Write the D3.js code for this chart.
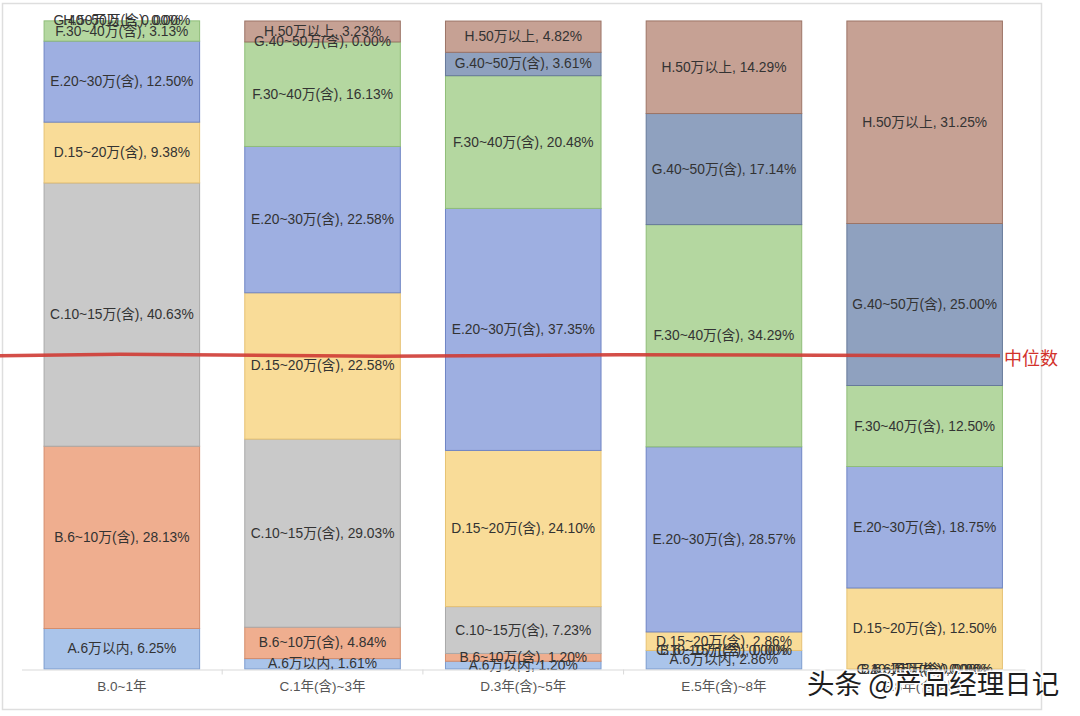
<!DOCTYPE html>
<html>
<head>
<meta charset="utf-8">
<script src="https://cdn.jsdelivr.net/npm/d3@7"></script>
<style>
html,body{margin:0;padding:0;background:#fff;}
svg{display:block;font-family:"Liberation Sans","Noto Sans CJK SC",sans-serif;}
</style>
</head>
<body>
<svg id="chart" width="1080" height="716"></svg>
<script>
// ---- data ----
const categories = ["B.0~1年", "C.1年(含)~3年", "D.3年(含)~5年", "E.5年(含)~8年", "F.8年(含)以上"];
const segmentNames = ["A.6万以内", "B.6~10万(含)", "C.10~15万(含)", "D.15~20万(含)", "E.20~30万(含)", "F.30~40万(含)", "G.40~50万(含)", "H.50万以上"];
const segA = [6.25, 1.61, 1.20, 2.86, 0.00];
const segB = [28.13, 4.84, 1.20, 0.00, 0.00];
const segC = [40.63, 29.03, 7.23, 0.00, 0.00];
const segD = [9.38, 22.58, 24.10, 2.86, 12.50];
const segE = [12.50, 22.58, 37.35, 28.57, 18.75];
const segF = [3.13, 16.13, 20.48, 34.29, 12.50];
const segG = [0.00, 0.00, 3.61, 17.14, 25.00];
const segH = [0.00, 3.23, 4.82, 14.29, 31.25];
const seriesValues = [segA, segB, segC, segD, segE, segF, segG, segH];
const fillColors = ["#aac4ea", "#efae8f", "#c9c9c9", "#f9dc98", "#9eafe1", "#b4d7a0", "#8fa1bf", "#c6a194"];
const strokeColors = ["#7d9ccf", "#d48d6c", "#a9a9a9", "#e6c274", "#6f85c4", "#8fbd78", "#66799a", "#9c7466"];
const medianLevel = 48.5;
const medianLabel = "中位数";
const watermark = "头条 @产品经理日记";

// ---- layout ----
const svg = d3.select("#chart");
const plot = {left: 21.5, right: 1025, top: 21, bottom: 669};

// outer frame
svg.append("rect").attr("x", 2.5).attr("y", 3.5).attr("width", 1039).attr("height", 706)
  .attr("fill", "none").attr("stroke", "#dedede").attr("stroke-width", 1.5);

const x = d3.scaleBand().domain(categories).range([plot.left, plot.right]).paddingInner(0.22).paddingOuter(0.11);
const y = d3.scaleLinear().domain([0, 100]).range([plot.bottom, plot.top]);

// table for stacking
const table = categories.map((c, i) => {
  const row = {cat: c};
  segmentNames.forEach((s, j) => row[s] = seriesValues[j][i]);
  return row;
});
const stacked = d3.stack().keys(segmentNames)(table);

const g = svg.append("g");
stacked.forEach((layer, j) => {
  g.append("g").selectAll("rect").data(layer).enter().append("rect")
    .attr("x", d => x(d.data.cat) + 0.5)
    .attr("width", x.bandwidth() - 1)
    .attr("y", d => y(d[1]))
    .attr("height", d => Math.max(0, y(d[0]) - y(d[1])))
    .attr("fill", fillColors[j])
    .attr("stroke", strokeColors[j])
    .attr("stroke-width", 1);
});

// labels
stacked.forEach((layer, j) => {
  g.append("g").selectAll("text").data(layer).enter().append("text")
    .attr("x", d => x(d.data.cat) + x.bandwidth() / 2)
    .attr("y", d => (y(d[0]) + y(d[1])) / 2)
    .attr("text-anchor", "middle")
    .attr("dominant-baseline", "central")
    .attr("font-size", 13.8)
    .attr("fill", "#333")
    .text(d => `${layer.key}, ${(d[1] - d[0]).toFixed(2)}%`);
});

// x axis
const axis = svg.append("g").attr("transform", `translate(0,${plot.bottom + 0.5})`)
  .call(d3.axisBottom(x).tickSize(0).tickPadding(12));
axis.select(".domain").attr("stroke", "#d9d9d9");
axis.selectAll("text").attr("font-size", 13.5).attr("fill", "#555")
  .attr("font-family", '"Liberation Sans","Noto Sans CJK SC",sans-serif');
const bounds = categories.slice(1).map(c => x(c) - x.step() * x.paddingInner() / 2);
axis.selectAll(".bt").data(bounds).enter().append("line")
  .attr("x1", d => d).attr("x2", d => d).attr("y1", 0).attr("y2", 5)
  .attr("stroke", "#d9d9d9");

// median hand-drawn line
const my = y(medianLevel);
svg.append("path")
  .attr("d", `M0,${my + 1} L120,${my - 0.5} L380,${my + 1.5} L620,${my} L820,${my + 0.5} L1000,${my + 1}`)
  .attr("fill", "none").attr("stroke", "#cf3b34").attr("stroke-width", 3.5).attr("opacity", 0.9);
svg.append("text").attr("x", 1004).attr("y", my + 2)
  .attr("dominant-baseline", "central")
  .attr("font-family", '"Noto Sans CJK SC",sans-serif')
  .attr("font-size", 18).attr("fill", "#d2322b").text(medianLabel);

// watermark
svg.append("text").attr("x", 807).attr("y", 694)
  .attr("font-family", '"Noto Sans CJK SC",sans-serif')
  .attr("font-size", 27.5).attr("fill", "#1e1e1e")
  .attr("stroke", "#fff").attr("stroke-width", 3).attr("paint-order", "stroke")
  .text(watermark);
</script>
</body>
</html>
